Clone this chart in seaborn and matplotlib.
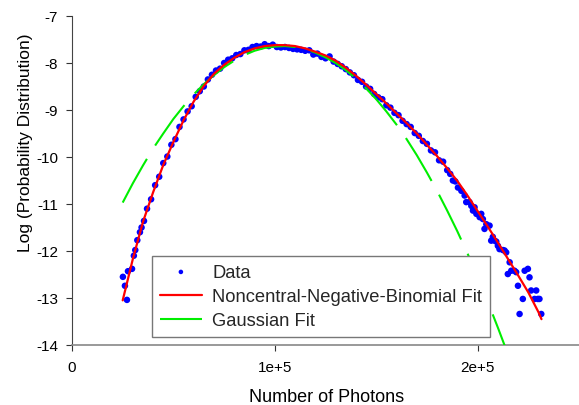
import matplotlib
matplotlib.use("Agg")
import matplotlib.pyplot as plt
import seaborn as sns
import pandas as pd

# ---------------- data (x in photons, y = log probability) ----------------
data_x = [25100, 26100, 27100, 27600, 29600, 30500, 31200, 32200, 33500, 34300, 35500,
          37000, 39000, 41000, 43000, 45000, 47000, 49000, 51000, 53000, 55000,
          57000, 59000, 61000, 63000, 65000, 67000, 69000, 71000, 73000, 75000,
          77000, 79000, 81000, 83000, 85000, 87000, 89000, 91000, 93000, 95000,
          97000, 99000, 101000, 103000, 105000, 107000, 109000, 111000, 113000, 115000,
          117000, 119000, 121000, 123000, 125000, 127000, 129000, 131000, 133000, 135000,
          137000, 139000, 141000, 143000, 145000, 147000, 149000, 151000, 153000, 155000,
          157000, 159000, 161000, 163000, 165000, 167000, 169000, 171000, 173000, 175000,
          177000, 179000, 181000, 183000, 185000, 186500, 187800, 189000, 190300, 192000,
          193600, 194400, 196000, 196900, 197700, 198500, 199400, 201000, 201800, 202600,
          203400, 204300, 205900, 206700, 207500, 208400, 209200, 210000, 210800, 212500,
          213300, 214100, 214900, 215800, 216600, 218200, 219000, 219900, 220700, 222300,
          223200, 224800, 225600, 226400, 228100, 228900, 229700, 230500, 231400]
data_y = [-12.55, -12.74, -13.04, -12.43, -12.38, -12.10, -11.98, -11.77, -11.60, -11.50, -11.36,
          -11.10, -10.90, -10.60, -10.42, -10.13, -9.99, -9.74, -9.62, -9.36, -9.20,
          -9.03, -8.92, -8.72, -8.60, -8.50, -8.35, -8.25, -8.16, -8.12, -8.00,
          -7.93, -7.90, -7.83, -7.81, -7.73, -7.72, -7.66, -7.64, -7.65, -7.60,
          -7.64, -7.61, -7.66, -7.67, -7.66, -7.68, -7.70, -7.71, -7.72, -7.74,
          -7.73, -7.82, -7.80, -7.87, -7.90, -7.86, -7.97, -8.02, -8.07, -8.13,
          -8.20, -8.26, -8.36, -8.40, -8.50, -8.55, -8.66, -8.73, -8.77, -8.90,
          -8.95, -9.06, -9.11, -9.23, -9.30, -9.36, -9.49, -9.55, -9.66, -9.72,
          -9.86, -9.90, -10.07, -10.10, -10.28, -10.36, -10.50, -10.52, -10.65, -10.72,
          -10.82, -10.96, -10.96, -11.04, -11.14, -11.07, -11.21, -11.28, -11.21, -11.32,
          -11.53, -11.43, -11.46, -11.78, -11.70, -11.78, -11.80, -11.89, -11.96, -11.98,
          -11.99, -12.03, -12.49, -12.24, -12.42, -12.42, -12.45, -12.74, -13.34, -13.02,
          -12.42, -12.38, -12.56, -12.84, -13.02, -12.84, -13.02, -13.02, -13.34]

# Noncentral-negative-binomial fit
nnb_x = [25000, 30000, 35000, 40000, 45000, 50000, 55000, 60000, 65000, 70000, 75000,
         80000, 85000, 90000, 95000, 100000, 105000, 110000, 115000, 120000, 125000,
         130000, 135000, 140000, 145000, 150000, 155000, 160000, 165000, 170000, 175000,
         180000, 185000, 190000, 195000, 200000, 205000, 210000, 215000, 220000, 225000,
         230000, 231500]
nnb_y = [-13.05, -12.17, -11.38, -10.75, -10.17, -9.68, -9.22, -8.82, -8.49, -8.23, -8.04,
         -7.89, -7.77, -7.69, -7.64, -7.62, -7.62, -7.64, -7.69, -7.76, -7.84,
         -7.95, -8.10, -8.27, -8.46, -8.66, -8.86, -9.07, -9.28, -9.50, -9.74,
         -9.98, -10.24, -10.51, -10.82, -11.15, -11.48, -11.82, -12.17, -12.52, -12.88,
         -13.30, -13.45]

# Gaussian fit
gauss_x = [25000, 30000, 35000, 40000, 45000, 50000, 55000, 60000, 65000, 70000, 75000,
           80000, 85000, 90000, 95000, 100000, 105000, 110000, 115000, 120000, 125000,
           130000, 135000, 140000, 145000, 150000, 155000, 160000, 165000, 170000, 175000,
           180000, 185000, 190000, 195000, 200000, 205000, 210000, 213500]
gauss_y = [-10.97, -10.56, -10.18, -9.82, -9.50, -9.19, -8.92, -8.67, -8.45, -8.26, -8.09,
           -7.95, -7.83, -7.74, -7.68, -7.65, -7.64, -7.66, -7.70, -7.78, -7.88,
           -8.00, -8.15, -8.33, -8.54, -8.77, -9.03, -9.31, -9.62, -9.96, -10.33,
           -10.72, -11.14, -11.58, -12.05, -12.55, -13.08, -13.63, -14.03]

x_ticks = [0, 100000, 200000]
x_ticklabels = ["0", "1e+5", "2e+5"]
y_ticks = [-14, -13, -12, -11, -10, -9, -8, -7]
y_ticklabels = ["-14", "-13", "-12", "-11", "-10", "-9", "-8", "-7"]

labels = ["Data", "Noncentral-Negative-Binomial Fit", "Gaussian Fit"]

# ---------------- plotting ----------------
sns.set_theme(style="white")
plt.rcParams["font.family"] = ["Liberation Sans", "DejaVu Sans"]

fig = plt.figure(figsize=(5.79, 4.06), dpi=100)
ax = fig.add_axes([72 / 579, 1 - 346 / 406, 507 / 579, 329 / 406])

df_data = pd.DataFrame({"x": data_x, "y": data_y})
df_nnb = pd.DataFrame({"x": nnb_x, "y": nnb_y})
df_gauss = pd.DataFrame({"x": gauss_x, "y": gauss_y})

sns.scatterplot(data=df_data, x="x", y="y", ax=ax, color="#0000FF", s=22,
                edgecolor="none", linewidth=0, label=labels[0], zorder=3)
sns.lineplot(data=df_gauss, x="x", y="y", ax=ax, color="#00EE00", linewidth=1.5,
             sort=False, estimator=None, label=labels[2], zorder=4)
ax.lines[-1].set_dashes((24, 7.5))
sns.lineplot(data=df_nnb, x="x", y="y", ax=ax, color="#FF0000", linewidth=1.6,
             sort=False, estimator=None, label=labels[1], zorder=5)

ax.set_xlim(0, 250000)
ax.set_ylim(-14, -7)
ax.set_xticks(x_ticks)
ax.set_xticklabels(x_ticklabels)
ax.set_yticks(y_ticks)
ax.set_yticklabels(y_ticklabels)

ax.tick_params(axis="both", which="major", direction="out", length=4, width=0.8,
               colors="#333333", labelsize=11, labelcolor="black")
ax.tick_params(axis="x", pad=7)
ax.tick_params(axis="y", pad=6)
ax.xaxis.set_ticks_position("bottom")
ax.yaxis.set_ticks_position("left")

for side in ["top", "right"]:
    ax.spines[side].set_visible(False)
ax.spines["left"].set_color("#444444")
ax.spines["left"].set_linewidth(0.8)
ax.spines["bottom"].set_color("#888888")
ax.spines["bottom"].set_linewidth(1.2)

ax.set_xlabel("Number of Photons", fontsize=13, color="black")
ax.set_ylabel("Log (Probability Distribution)", fontsize=12.5, color="black")
ax.xaxis.set_label_coords(0.503, -0.13)
ax.yaxis.set_label_coords(-0.077, 0.617)

handles, labs = ax.get_legend_handles_labels()
order = [labs.index(l) for l in labels]
leg = ax.legend([handles[i] for i in order], [labs[i] for i in order],
                loc="lower left", bbox_to_anchor=(0.158, 0.024), fontsize=13.2,
                frameon=True, fancybox=False, framealpha=1, edgecolor="#777777",
                handlelength=2.3, handletextpad=0.55, borderpad=0.42,
                labelspacing=0.4, borderaxespad=0, markerscale=0.7)
leg.get_frame().set_linewidth(1.0)
leg.set_zorder(10)

fig.savefig("out.png", dpi=100)
